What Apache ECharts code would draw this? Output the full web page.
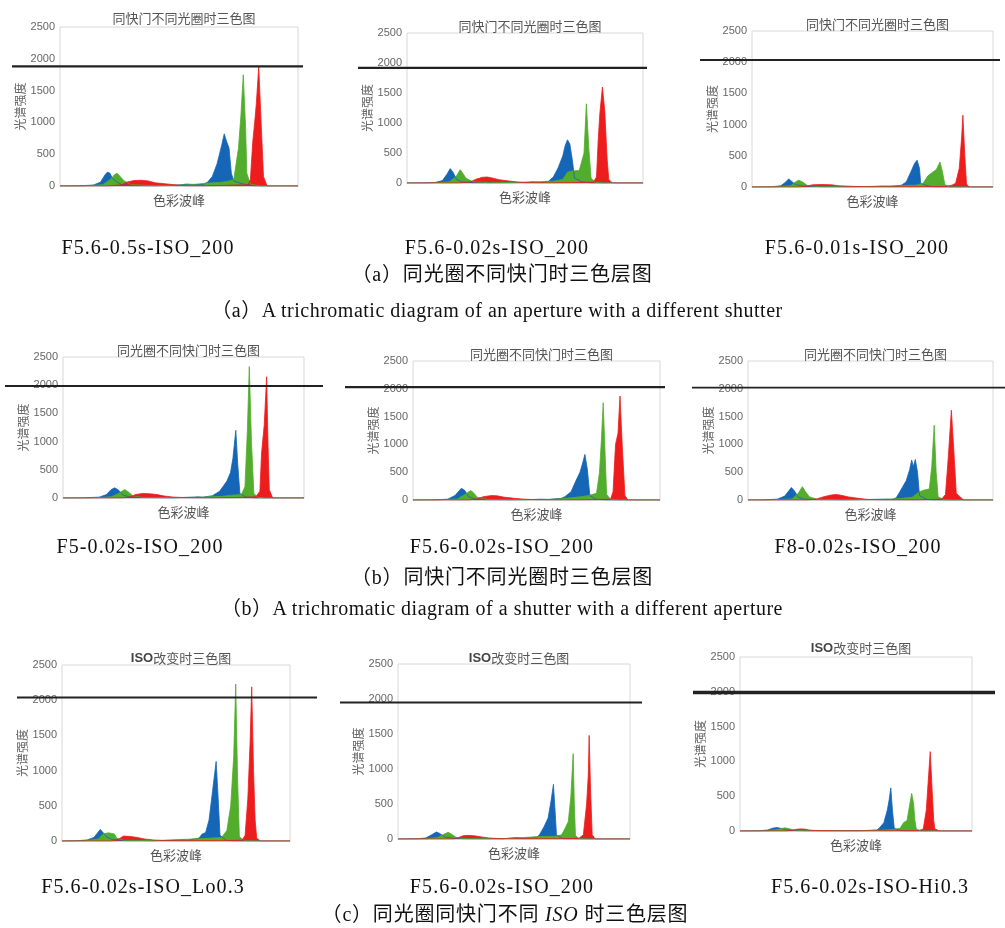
<!DOCTYPE html>
<html>
<head>
<meta charset="utf-8">
<script src="https://cdn.jsdelivr.net/npm/echarts@6/dist/echarts.min.js"></script>
<style>
  html, body { margin: 0; padding: 0; background: #fff; }
  #wrap { position: relative; width: 1005px; height: 928px; }
  #chart { position: absolute; left: 0; top: 0; width: 1005px; height: 928px; }
  .cap {
    position: absolute;
    transform: translate(-50%, -50%);
    white-space: nowrap;
    font-family: "Liberation Serif", "Noto Sans CJK SC", serif;
    color: #111;
  }
  .sub { font-size: 20px; letter-spacing: 1.1px; }
  .zh { font-size: 20px; letter-spacing: 0.8px; }
  .en { font-size: 20px; letter-spacing: 0.5px; }
</style>
</head>
<body>
<div id="wrap">
  <div id="chart"></div>
</div>
<script>
// chart titles
const titles = [
  '同快门不同光圈时三色图', '同快门不同光圈时三色图', '同快门不同光圈时三色图',
  '同光圈不同快门时三色图', '同光圈不同快门时三色图', '同光圈不同快门时三色图',
  '{b|ISO}改变时三色图', '{b|ISO}改变时三色图', '{b|ISO}改变时三色图'
]
const yName = '光谱强度'
const xName = '色彩波峰'
const yTicks = [0, 500, 1000, 1500, 2000, 2500]

// black reference line level in each panel
const refLevels = [1880, 1920, 2035, 1985, 2030, 2020, 2040, 1950, 1990]

// [position along colour peaks (0-100), intensity]
const blue1 = [[0,0],[8,2],[14,15],[17,60],[19,180],[20,220],[21,200],[22,120],[24,60],[26,20],[30,5],[40,2],[50,15],[53,30],[56,25],[60,20],[62,60],[64,150],[66,350],[67,500],[68,650],[69,820],[70,700],[71,600],[72,200],[73,80],[76,40],[80,10],[82,0],[100,0]]
const green1 = [[0,0],[10,2],[18,20],[21,100],[23,180],[24,200],[25,160],[27,80],[30,20],[40,5],[55,20],[60,40],[64,50],[68,60],[71,80],[73,100],[75,600],[76,1100],[77,1750],[78,900],[78.5,200],[80,30],[84,0],[100,0]]
const red1 = [[0,0],[20,0],[26,20],[28,60],[31,85],[34,90],[37,80],[40,50],[44,35],[48,20],[52,5],[60,2],[70,10],[79,20],[80,100],[81,700],[81.8,1000],[82.5,1300],[83.5,1880],[84.5,1000],[85.5,150],[87,0],[100,0]]

const blue2 = [[0,0],[6,2],[12,10],[15,40],[17,150],[18.3,240],[19.5,180],[21,60],[23,20],[28,5],[40,2],[50,10],[53,20],[57,15],[60,30],[62,100],[64,250],[66,450],[67,620],[68,720],[69,650],[70,400],[71,80],[74,20],[78,0],[100,0]]
const green2 = [[0,0],[10,2],[18,20],[21,120],[22.5,220],[23.5,170],[25,80],[28,20],[35,5],[55,15],[62,30],[66,60],[68,180],[70,200],[73,210],[75,500],[76,1320],[77,600],[78,80],[80,10],[84,0],[100,0]]
const red2 = [[0,0],[22,0],[27,20],[29,60],[32,95],[34,100],[36,85],[39,55],[43,35],[47,15],[52,5],[60,2],[70,5],[79,15],[80.3,100],[81,700],[81.7,1150],[82.8,1600],[83.8,1200],[84.8,400],[85.5,60],[87,0],[100,0]]

const blue3 = [[0,0],[8,2],[12,20],[14,80],[15.2,130],[16.5,90],[18,40],[21,15],[30,5],[40,2],[50,10],[54,15],[58,10],[62,30],[64,80],[66,250],[67.5,380],[68.5,430],[69.5,300],[70,60],[73,15],[76,0],[100,0]]
const green3 = [[0,0],[10,2],[16,20],[18,80],[19.4,110],[21,80],[23,25],[28,5],[50,5],[60,20],[68,30],[71,60],[73,180],[75.4,250],[76.5,280],[78,400],[79,250],[80,40],[82,0],[100,0]]
const red3 = [[0,0],[20,0],[23,15],[25,35],[29,40],[33,35],[36,20],[42,10],[50,3],[65,3],[80,8],[83,30],[84.5,60],[86,300],[87,800],[87.5,1150],[88.3,500],[89,50],[90,0],[100,0]]

const blue4 = [[0,0],[8,2],[15,15],[18,60],[20,150],[21.5,180],[23,140],[25,50],[28,15],[35,5],[45,3],[54,15],[56,20],[58,15],[62,40],[65,120],[68,300],[69.5,450],[70.5,700],[71.7,1200],[72.5,600],[73.4,80],[76,15],[80,0],[100,0]]
const green4 = [[0,0],[12,2],[20,20],[23,80],[25.6,150],[27,110],[29,40],[33,10],[45,5],[58,15],[66,30],[70,50],[74,60],[75.5,200],[76.5,1200],[77.3,2330],[78.2,1000],[79.2,80],[81,10],[84,0],[100,0]]
const red4 = [[0,0],[24,0],[28,20],[30,60],[33,80],[36,75],[39,60],[42,35],[46,15],[52,5],[60,2],[72,8],[80,20],[81.7,120],[82.4,800],[83.5,1300],[84.5,2150],[85.1,900],[85.6,150],[87,0],[100,0]]

const blue5 = [[0,0],[8,2],[14,15],[17,80],[19.6,210],[21,170],[22.5,60],[25,20],[30,5],[40,2],[49,10],[52,15],[55,10],[60,30],[61.5,60],[64,150],[66,350],[67.6,500],[68.6,650],[69.6,820],[70.6,550],[71.6,80],[74,15],[78,0],[100,0]]
const green5 = [[0,0],[10,2],[18,20],[21,100],[23.4,170],[24.5,130],[26,50],[30,10],[40,5],[55,10],[62,30],[68,60],[71,80],[74.3,120],[75.5,500],[76.3,1100],[77,1750],[77.8,800],[78.4,100],[80,10],[84,0],[100,0]]
const red5 = [[0,0],[22,0],[26,20],[28.5,60],[31.8,80],[34,75],[37,50],[41,30],[45,15],[50,5],[60,2],[72,5],[80,15],[81,150],[82,1000],[83,1200],[83.8,1870],[84.8,900],[85.8,80],[87,0],[100,0]]

const blue6 = [[0,0],[6,2],[12,15],[15,70],[17.7,225],[19,160],[20.5,50],[23,15],[30,5],[40,2],[52,12],[56,15],[59,10],[60.5,40],[62,150],[64.6,350],[66,550],[66.8,720],[67.5,600],[68.3,730],[69.2,500],[70,80],[73,10],[76,0],[100,0]]
const green6 = [[0,0],[10,2],[18,20],[20.5,120],[22.2,240],[23.3,160],[25,60],[28,15],[38,5],[55,10],[62,25],[67,50],[70,150],[72,180],[74,200],[75,600],[76,1345],[76.8,500],[77.6,60],[80,5],[84,0],[100,0]]
const red6 = [[0,0],[24,0],[28,20],[31,60],[34,90],[36,100],[38,85],[41,55],[45,30],[49,10],[55,3],[70,3],[79,15],[80.6,100],[81.8,800],[83,1615],[84,900],[85,120],[86.5,60],[88,0],[100,0]]

const blue7 = [[0,0],[6,2],[11,15],[14,50],[16.8,165],[18,120],[19.5,60],[22,20],[28,5],[40,2],[50,12],[53,20],[55,12],[60,40],[61.5,100],[63,120],[64.5,300],[66,700],[67.6,1130],[68.5,600],[69.3,80],[72,10],[75,0],[100,0]]
const green7 = [[0,0],[10,2],[16,30],[18,100],[20.4,116],[23,100],[24,40],[27,10],[40,5],[55,25],[62,35],[67,45],[70,50],[72.3,150],[74,500],[75.3,1200],[76.2,2230],[77,900],[77.8,60],[80,5],[84,0],[100,0]]
const red7 = [[0,0],[22,0],[25,30],[27,70],[30,65],[33,50],[36,30],[40,15],[45,5],[55,2],[70,4],[79,12],[80.3,80],[81.5,600],[82.5,1400],[83.2,2190],[84,1000],[84.7,300],[85.4,40],[87,0],[100,0]]

const blue8 = [[0,0],[8,2],[12,15],[14.5,60],[16.5,100],[18,80],[20,30],[24,10],[30,3],[45,2],[49,15],[51,20],[54,10],[60,30],[61,60],[63,180],[64.7,300],[66,550],[67,780],[67.7,400],[68.3,60],[71,5],[74,0],[100,0]]
const green8 = [[0,0],[12,2],[17,20],[20,70],[21.6,95],[23,70],[25,25],[28,5],[45,3],[56,25],[62,35],[68,40],[70.5,60],[72,150],[73.4,250],[74.5,600],[75.5,1220],[76,500],[76.5,50],[78,5],[82,0],[100,0]]
const red8 = [[0,0],[24,0],[26,20],[28,45],[30,52],[33,45],[36,30],[39,15],[44,5],[55,2],[70,3],[78,10],[79.9,60],[81.3,500],[82,900],[82.4,1480],[83,700],[83.7,60],[85,0],[100,0]]

const blue9 = [[0,0],[8,2],[12,15],[14,40],[15.8,50],[17.5,40],[20,15],[25,5],[35,2],[52,5],[56,10],[59,15],[60,40],[62,120],[63.5,300],[64.3,450],[65,620],[65.7,300],[66.5,40],[69,5],[72,0],[100,0]]
const green9 = [[0,0],[12,2],[16,20],[19.4,45],[21,35],[23,15],[28,3],[50,2],[60,10],[66,20],[69,40],[70.5,120],[72,150],[73,350],[74,540],[74.8,400],[75.4,150],[76,30],[78,0],[100,0]]
const red9 = [[0,0],[20,0],[23,15],[25,28],[26.6,30],[28.5,25],[30,12],[34,5],[45,2],[65,2],[77,5],[79,30],[80.3,300],[81.3,800],[82,1140],[82.8,600],[83.5,150],[84,30],[86,0],[100,0]]

const blueSets = [blue1, blue2, blue3, blue4, blue5, blue6, blue7, blue8, blue9]
const greenSets = [green1, green2, green3, green4, green5, green6, green7, green8, green9]
const redSets = [red1, red2, red3, red4, red5, red6, red7, red8, red9]

// captions
const subCaptions = [
  'F5.6-0.5s-ISO_200', 'F5.6-0.02s-ISO_200', 'F5.6-0.01s-ISO_200',
  'F5-0.02s-ISO_200', 'F5.6-0.02s-ISO_200', 'F8-0.02s-ISO_200',
  'F5.6-0.02s-ISO_Lo0.3', 'F5.6-0.02s-ISO_200', 'F5.6-0.02s-ISO-Hi0.3'
]
const groupZh = ['（a）同光圈不同快门时三色层图', '（b）同快门不同光圈时三色层图', '（c）同光圈同快门不同 <i>ISO</i> 时三色层图']
const groupEn = ['（a）A trichromatic diagram of an aperture with a different shutter', '（b）A trichromatic diagram of a shutter with a different aperture']

// layout: plot rect [left, top, width, height], title centre y, ref line x-span
const plots = [
  [60, 27, 238, 159], [407, 33, 236, 150], [752, 31, 241, 156],
  [63, 357, 241, 141], [413, 361, 247, 139], [748, 361, 245, 139],
  [62, 665, 228, 176], [398, 664, 232, 175], [740, 657, 232, 174]
]
const titleY = [15, 23, 21, 347, 351, 351, 655, 655, 645]
const lineSpan = [[12, 303], [358, 647], [700, 1000], [5, 323], [345, 665], [692, 1005], [17, 317], [340, 642], [693, 995]]
const lineWidth = [2.2, 2.2, 2, 2, 2.4, 1.8, 2, 2, 3.6]
const subPos = [[148, 247], [497, 247], [857, 247], [140, 546], [502, 546], [858, 546], [143, 886], [502, 886], [870, 886]]
const zhPos = [[502, 272], [502, 575], [505, 912]]
const enPos = [[497, 308], [502, 606]]

const COLORS = { blue: '#1566b6', green: '#52ad2c', red: '#ee1d1d' }
const SANS = '"Liberation Sans", Arial, sans-serif'
const CN = '"Noto Sans CJK SC", sans-serif'

const chart = echarts.init(document.getElementById('chart'))

const grid = [], xAxis = [], yAxis = [], series = [], title = []
plots.forEach((p, i) => {
  grid.push({ left: p[0], top: p[1], width: p[2], height: p[3], show: true, borderColor: '#d8d8d8', borderWidth: 1, backgroundColor: '#fff' })
  title.push({
    text: titles[i],
    left: p[0] + p[2] / 2,
    top: titleY[i] - 8,
    textAlign: 'center',
    textStyle: {
      fontFamily: CN, fontSize: 13, fontWeight: 'normal', color: '#555',
      rich: { b: { fontFamily: SANS, fontSize: 13, fontWeight: 'bold', color: '#444' } }
    }
  })
  xAxis.push({
    type: 'value', gridIndex: i, min: 0, max: 100,
    name: xName, nameLocation: 'middle', nameGap: 8,
    nameTextStyle: { fontFamily: CN, fontSize: 13, color: '#555' },
    axisLine: { show: true, lineStyle: { color: '#cfcfcf' } },
    axisTick: { show: false }, axisLabel: { show: false }, splitLine: { show: false }
  })
  yAxis.push({
    type: 'value', gridIndex: i, min: 0, max: 2500, interval: 500,
    name: yName, nameLocation: 'middle', nameGap: 34, nameRotate: 90,
    nameTextStyle: { fontFamily: CN, fontSize: 12, color: '#666' },
    axisLine: { show: false }, axisTick: { show: false }, splitLine: { show: false },
    axisLabel: { fontFamily: SANS, fontSize: 11, color: '#666', margin: 5, customValues: yTicks, formatter: v => String(v) }
  })
  const sets = [['blue', blueSets[i]], ['green', greenSets[i]], ['red', redSets[i]]]
  sets.forEach(([c, d]) => {
    series.push({
      type: 'line', xAxisIndex: i, yAxisIndex: i, data: d,
      symbol: 'none', silent: true,
      lineStyle: { color: COLORS[c], width: 0.8 },
      areaStyle: { color: COLORS[c], opacity: 1 }
    })
  })
})

chart.setOption({ animation: false, title, grid, xAxis, yAxis, series })

// black reference lines: y from the panel's own scale, spanning past the frame
const graphic = refLevels.map((v, i) => {
  const y = chart.convertToPixel({ gridIndex: i }, [0, v])[1]
  return {
    type: 'line', z: 100,
    shape: { x1: lineSpan[i][0], y1: y, x2: lineSpan[i][1], y2: y },
    style: { stroke: '#222', lineWidth: lineWidth[i] }
  }
})
chart.setOption({ graphic })

// captions
const wrap = document.getElementById('wrap')
const addCap = (html, pos, cls) => {
  const el = document.createElement('div')
  el.className = 'cap ' + cls
  el.innerHTML = html
  el.style.left = pos[0] + 'px'
  el.style.top = pos[1] + 'px'
  wrap.appendChild(el)
}
subCaptions.forEach((t, i) => addCap(t, subPos[i], 'sub'))
groupZh.forEach((t, i) => addCap(t, zhPos[i], 'zh'))
groupEn.forEach((t, i) => addCap(t, enPos[i], 'en'))
</script>
</body>
</html>
